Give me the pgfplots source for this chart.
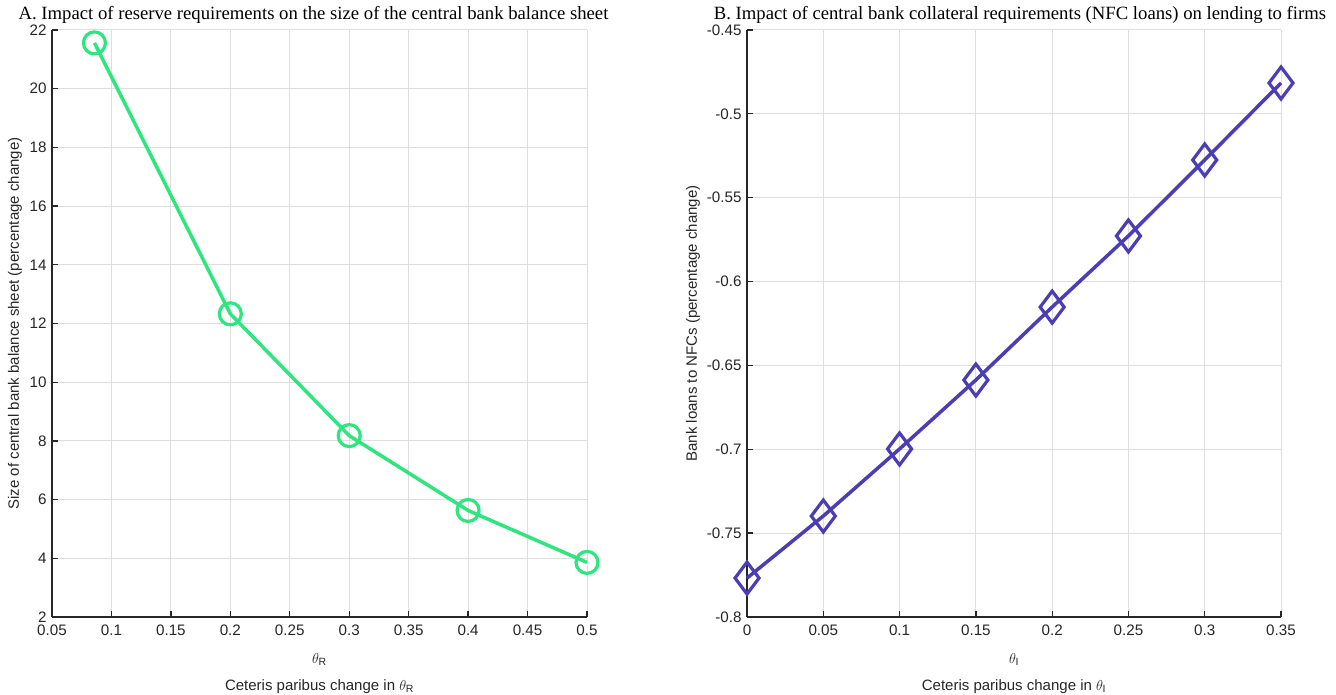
\documentclass[border=0pt]{standalone}
\usepackage{fontspec}
\setmainfont{Liberation Sans}
\newfontfamily\titlefont{Liberation Serif}
\usepackage{pgfplots}
\pgfplotsset{compat=1.18}
\definecolor{cgreen}{RGB}{46,229,128}
\definecolor{cpurple}{RGB}{75,61,180}
\definecolor{gridgray}{RGB}{222,222,222}
\definecolor{axblack}{RGB}{38,38,38}
\pgfdeclareplotmark{mdiamond}{%
  \pgfpathmoveto{\pgfqpoint{0pt}{16pt}}%
  \pgfpathlineto{\pgfqpoint{12pt}{0pt}}%
  \pgfpathlineto{\pgfqpoint{0pt}{-16pt}}%
  \pgfpathlineto{\pgfqpoint{-12pt}{0pt}}%
  \pgfpathclose
  \pgfusepathqstroke}
\pgfplotsset{
  mystyle/.style={
    scale only axis, height=587pt,
    axis lines*=left,
    axis line style={axblack, line width=1.6pt},
    tick align=inside, major tick length=6pt,
    tick style={axblack, line width=1.3pt},
    grid=major, major grid style={gridgray, line width=1pt},
    ticklabel style={font=\fontsize{15.2}{18}\selectfont, text=axblack},
    xticklabel style={yshift=-4pt},
    yticklabel style={xshift=-2pt},
    label style={font=\fontsize{15}{18}\selectfont, text=axblack},
    title style={font=\titlefont\fontsize{18.7}{22}\selectfont, at={(axis description cs:0.5,1)}, anchor=base, yshift=4.5pt},
    clip=false,
    xlabel style={at={(axis description cs:0.5,0)}, anchor=north, yshift=-33pt, align=center},
  }
}
\begin{document}
\begin{tikzpicture}
\useasboundingbox (0,0) rectangle (1336pt,695pt);
\begin{axis}[mystyle, width=535pt,
  at={(52pt,78pt)}, anchor=south west,
  xmin=0.05, xmax=0.5, ymin=2, ymax=22,
  xtick={0.05,0.1,0.15,0.2,0.25,0.3,0.35,0.4,0.45,0.5},
  xticklabels={0.05,0.1,0.15,0.2,0.25,0.3,0.35,0.4,0.45,0.5},
  ytick={2,4,6,8,10,12,14,16,18,20,22},
  yticklabels={2,4,6,8,10,12,14,16,18,20,22},
  title={A. Impact of reserve requirements on the size of the central bank balance sheet},
  title style={xshift=-6pt},
  xlabel={$\theta_{\mathrm{R}}$\\[9pt]Ceteris paribus change in $\theta_{\mathrm{R}}$},
  ylabel={Size of central bank balance sheet (percentage change)},
  ylabel style={at={(axis description cs:-0.069,0.5)}, anchor=center},
]
\addplot[cgreen, line width=3.5pt, mark=o, mark size=11pt, mark options={line width=3.2pt}] coordinates {
(0.0857,21.56) (0.2,12.33) (0.3,8.18) (0.4,5.63) (0.5,3.86)};
\end{axis}
\begin{axis}[mystyle, width=534pt,
  at={(747pt,78pt)}, anchor=south west,
  xmin=0, xmax=0.35, ymin=-0.8, ymax=-0.45,
  xtick={0,0.05,0.1,0.15,0.2,0.25,0.3,0.35},
  xticklabels={0,0.05,0.1,0.15,0.2,0.25,0.3,0.35},
  ytick={-0.8,-0.75,-0.7,-0.65,-0.6,-0.55,-0.5,-0.45},
  yticklabels={-0.8,-0.75,-0.7,-0.65,-0.6,-0.55,-0.5,-0.45},
  title={B. Impact of central bank collateral requirements (NFC loans) on lending to firms},
  title style={xshift=6pt},
  xlabel={$\theta_{\mathrm{I}}$\\[9pt]Ceteris paribus change in $\theta_{\mathrm{I}}$},
  ylabel={Bank loans to NFCs (percentage change)},
  ylabel style={at={(axis description cs:-0.101,0.5)}, anchor=center},
]
\addplot[cpurple, line width=3.5pt, mark=mdiamond, mark options={line width=3.2pt, line join=miter}] coordinates {
(0,-0.7768) (0.05,-0.7398) (0.1,-0.6998) (0.15,-0.6587) (0.2,-0.6152) (0.25,-0.5728) (0.3,-0.5275) (0.35,-0.4816)};
\end{axis}
\end{tikzpicture}
\end{document}
